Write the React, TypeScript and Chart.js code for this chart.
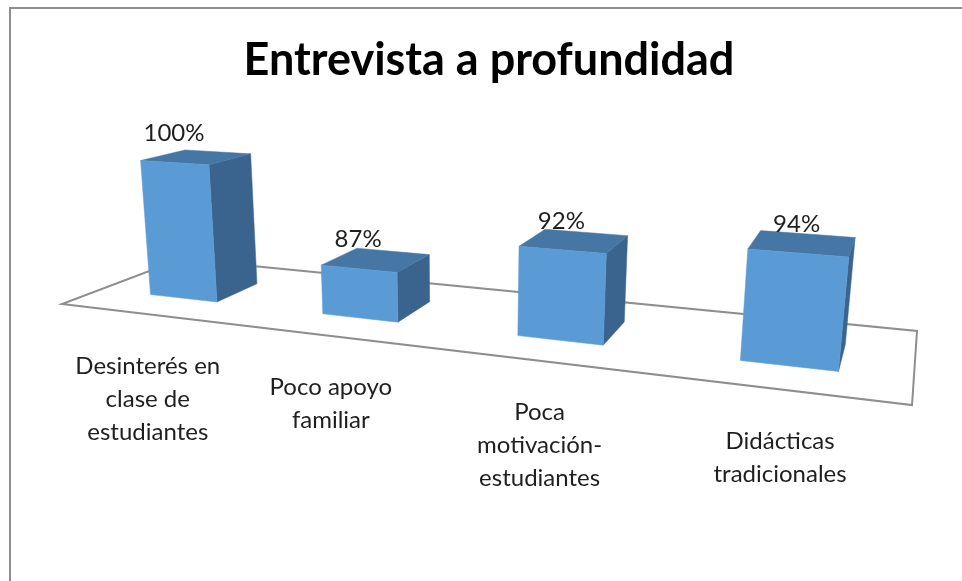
import React, { useEffect, useRef } from "react";
import { Chart, registerables } from "chart.js";

Chart.register(...registerables);

const chartTitle = "Entrevista a profundidad";
const categories = [
  ["Desinterés en", "clase de", "estudiantes"],
  ["Poco apoyo", "familiar"],
  ["Poca", "motivación-", "estudiantes"],
  ["Didácticas", "tradicionales"],
];
const seriesValues = [100, 87, 92, 94];
const axisMin = 80;
const axisMax = 100;

// Projective camera: floor (u, v in 0..1) and height t (0..1) to the screen
const CAM = {
  a: 631.5, b: 147.3, m: -14.67, c: 62,
  d: 4.0, e: -4.5, p: -143.0, f: 304,
  g: -0.2396, h: 0.1565, n: -0.0317,
};
const project = (u: number, v: number, t: number): [number, number] => {
  const w = CAM.g * u + CAM.h * v + CAM.n * t + 1;
  return [
    (CAM.a * u + CAM.b * v + CAM.m * t + CAM.c) / w,
    (CAM.d * u + CAM.e * v + CAM.p * t + CAM.f) / w,
  ];
};
const DEPTH_FRONT = 0.3;
const DEPTH_BACK = 0.675;
const BAR_SHIFT = 0.002;

const FRONT = "#5b9bd5";
const TOP = "#4677a4";
const SIDE = "#3a648d";
const LINE = "#8e8e8e";
const TEXT = "#1f1f1f";
const FONT = "Lato, Carlito, sans-serif";

const poly = (ctx: CanvasRenderingContext2D, pts: [number, number][], fill?: string) => {
  ctx.beginPath();
  pts.forEach((p, i) => (i ? ctx.lineTo(p[0], p[1]) : ctx.moveTo(p[0], p[1])));
  ctx.closePath();
  if (fill) {
    ctx.fillStyle = fill;
    ctx.strokeStyle = fill;
    ctx.lineWidth = 0.5;
    ctx.fill();
    ctx.stroke();
  }
};

const scene3d = {
  id: "scene3d",
  beforeDatasetsDraw(chart: any) {
    const { ctx, chartArea, scales } = chart;
    const yTop = scales.y.getPixelForValue(axisMax);
    const yBase = scales.y.getPixelForValue(axisMin);
    ctx.save();

    // chart frame
    ctx.strokeStyle = LINE;
    ctx.lineWidth = 2;
    ctx.beginPath();
    ctx.moveTo(10, chart.height);
    ctx.lineTo(10, 8);
    ctx.lineTo(chart.width, 8);
    ctx.stroke();

    // floor
    poly(ctx, [project(0, 0, 0), project(1, 0, 0), project(1, 1, 0), project(0, 1, 0)]);
    ctx.strokeStyle = LINE;
    ctx.lineWidth = 2;
    ctx.stroke();

    const meta = chart.getDatasetMeta(0);
    meta.data.forEach((bar: any) => {
      const u0 = (bar.x - bar.width / 2 - chartArea.left) / chartArea.width + BAR_SHIFT;
      const u1 = (bar.x + bar.width / 2 - chartArea.left) / chartArea.width + BAR_SHIFT;
      const t = (yBase - bar.y) / (yBase - yTop);
      const vf = DEPTH_FRONT;
      const vb = DEPTH_BACK;
      poly(ctx, [project(u1, vf, 0), project(u1, vb, 0), project(u1, vb, t), project(u1, vf, t)], SIDE);
      poly(ctx, [project(u0, vf, t), project(u1, vf, t), project(u1, vb, t), project(u0, vb, t)], TOP);
      poly(ctx, [project(u0, vf, 0), project(u1, vf, 0), project(u1, vf, t), project(u0, vf, t)], FRONT);
    });

    // value labels and category labels
    ctx.textAlign = "center";
    ctx.textBaseline = "middle";
    ctx.fillStyle = TEXT;
    ctx.font = `24px ${FONT}`;
    meta.data.forEach((bar: any, i: number) => {
      const uc = (bar.x - chartArea.left) / chartArea.width;
      const t = (yBase - bar.y) / (yBase - yTop);
      const top = project(uc, DEPTH_FRONT, t);
      ctx.fillText(`${seriesValues[i]}%`, top[0] + 1, top[1] - 29);
      const foot = project(uc, 0, 0);
      (chart.data.labels[i] as string[]).forEach((line: string, k: number) => {
        ctx.fillText(line, foot[0] + 2.5, foot[1] + 52 + k * 33);
      });
    });
    ctx.restore();
    return false;
  },
};

export default function App() {
  const ref = useRef<HTMLCanvasElement>(null);
  useEffect(() => {
    const chart = new Chart(ref.current as HTMLCanvasElement, {
      type: "bar",
      data: {
        labels: categories,
        datasets: [
          {
            label: chartTitle,
            data: seriesValues,
            backgroundColor: FRONT,
            categoryPercentage: 0.8,
            barPercentage: 0.5,
          },
        ],
      },
      options: {
        animation: false,
        responsive: false,
        layout: { padding: { left: 16 } },
        scales: {
          x: { display: false },
          y: { display: false, min: axisMin, max: axisMax },
        },
        plugins: {
          legend: { display: false },
          tooltip: { enabled: false },
          title: {
            display: true,
            text: chartTitle,
            color: "#000000",
            font: { family: FONT, size: 45, weight: "bold" },
            padding: { top: 33, bottom: 10 },
          },
        },
      },
      plugins: [scene3d],
    } as any);
    return () => chart.destroy();
  }, []);
  return (
    <div style={{ position: "fixed", left: 0, top: 0, width: 962, height: 581, background: "#fff" }}>
      <canvas ref={ref} width={962} height={581} style={{ display: "block" }} />
    </div>
  );
}
